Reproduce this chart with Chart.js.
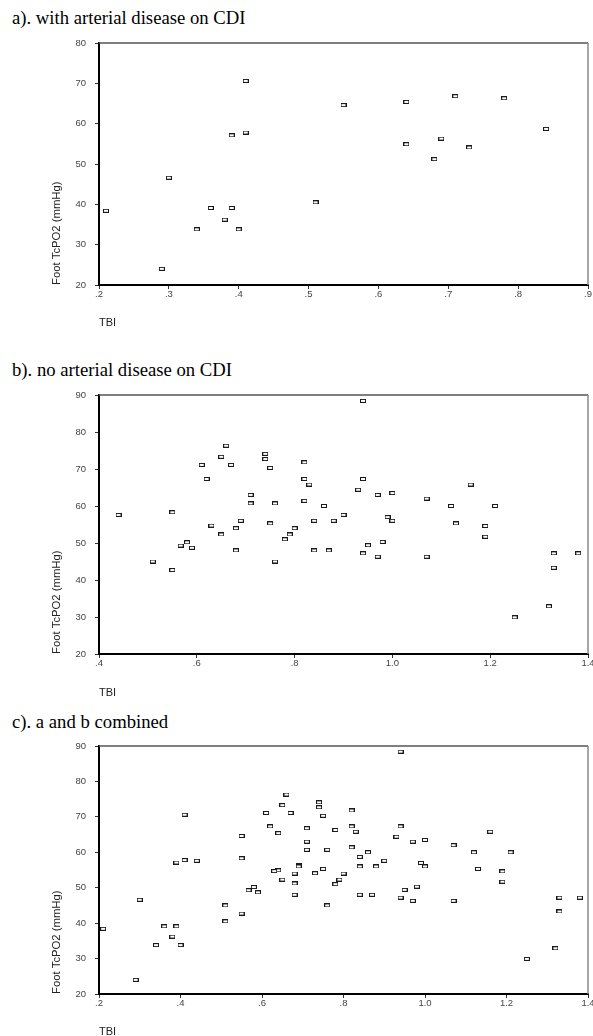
<!DOCTYPE html>
<html>
<head>
<meta charset="utf-8">
<script src="https://cdn.jsdelivr.net/npm/chart.js@4.4.1/dist/chart.umd.min.js"></script>
<style>
  html, body { margin: 0; padding: 0; background: #fff; overflow: hidden; }
  #page { position: relative; width: 593px; height: 1036px; overflow: hidden; }
  .ttl { position: absolute; left: 12px; font: 18.7px/18px "Liberation Serif", "Times New Roman", serif; color: #000; white-space: nowrap; }
  canvas { position: absolute; left: 0; }
</style>
</head>
<body>
<div id="page">
  <div class="ttl" style="top:9px">a). with arterial disease on CDI</div>
  <canvas id="chartA" width="593" height="300" style="top:33px"></canvas>
  <div class="ttl" style="top:361px">b). no arterial disease on CDI</div>
  <canvas id="chartB" width="593" height="318" style="top:385px"></canvas>
  <div class="ttl" style="top:713px">c). a and b combined</div>
  <canvas id="chartC" width="593" height="306" style="top:736px"></canvas>
</div>
<script>
// a) with arterial disease on CDI
const tbiA = [0.21, 0.29, 0.30, 0.34, 0.36, 0.38, 0.39, 0.40, 0.39, 0.41, 0.41,
  0.51, 0.55, 0.64, 0.64, 0.68, 0.69, 0.71, 0.73, 0.78, 0.84]
const tcpo2A = [38.4, 24.0, 46.6, 33.8, 39.1, 36.2, 39.1, 33.8, 57.1, 57.8, 70.6,
  40.5, 64.6, 65.4, 54.9, 51.2, 56.3, 66.8, 54.1, 66.3, 58.7]

// b) no arterial disease on CDI
const tbiB = [0.44, 0.51, 0.55, 0.55, 0.567, 0.58, 0.59, 0.61, 0.62, 0.63, 0.65, 0.65,
  0.66, 0.67, 0.68, 0.68, 0.69, 0.71, 0.71, 0.74, 0.74, 0.75, 0.75, 0.76, 0.76, 0.76,
  0.78, 0.79, 0.80, 0.82, 0.82, 0.82, 0.83, 0.84, 0.84, 0.86, 0.87, 0.88, 0.88, 0.90,
  0.93, 0.94, 0.94, 0.94, 0.95, 0.97, 0.97, 0.98, 0.99, 1.00, 1.00, 1.07, 1.07, 1.12,
  1.13, 1.16, 1.19, 1.19, 1.21, 1.25, 1.32, 1.33, 1.33, 1.38]
const tcpo2B = [57.6, 45.0, 58.3, 42.7, 49.3, 50.2, 48.7, 71.1, 67.3, 54.7, 73.3, 52.3,
  76.3, 71.1, 54.0, 48.0, 56.0, 63.0, 60.7, 74.1, 72.7, 55.3, 70.3, 60.7, 60.7, 45.0,
  51.0, 52.3, 54.0, 71.8, 67.3, 61.4, 65.8, 56.0, 48.0, 60.0, 48.0, 56.0, 56.0, 57.6,
  64.4, 88.4, 67.3, 47.2, 49.4, 63.0, 46.3, 50.3, 57.0, 63.5, 56.0, 62.0, 46.3, 60.0,
  55.3, 65.8, 54.6, 51.7, 60.0, 29.9, 32.9, 47.2, 43.3, 47.2]

// c) a and b combined
const tbiC = tbiA.concat(tbiB)
const tcpo2C = tcpo2A.concat(tcpo2B)

// tick values and labels
const xTicksA = [0.2, 0.3, 0.4, 0.5, 0.6, 0.7, 0.8, 0.9]
const xLabelsA = [".2", ".3", ".4", ".5", ".6", ".7", ".8", ".9"]
const xTicksB = [0.4, 0.6, 0.8, 1.0, 1.2, 1.4]
const xLabelsB = [".4", ".6", ".8", "1.0", "1.2", "1.4"]
const xTicksC = [0.2, 0.4, 0.6, 0.8, 1.0, 1.2, 1.4]
const xLabelsC = [".2", ".4", ".6", ".8", "1.0", "1.2", "1.4"]
const yTicksA = [20, 30, 40, 50, 60, 70, 80]
const yTicksBC = [20, 30, 40, 50, 60, 70, 80, 90]

const sans = "'Liberation Sans', Arial, sans-serif"

// little open rectangle used as the marker
function boxMarker() {
  const c = document.createElement("canvas")
  c.width = 6
  c.height = 4
  const g = c.getContext("2d")
  g.fillStyle = "#fff"
  g.fillRect(0, 0, 6, 4)
  g.strokeStyle = "#1a1a1a"
  g.lineWidth = 1
  g.strokeRect(0.5, 0.5, 5, 3)
  return c
}

// top and right lines of the frame
const frameLines = {
  id: "frameLines",
  afterDraw(chart) {
    const { ctx, chartArea } = chart
    ctx.save()
    ctx.lineWidth = 1.5
    ctx.strokeStyle = "#555"
    ctx.beginPath()
    ctx.moveTo(chartArea.left, chartArea.top)
    ctx.lineTo(chartArea.right, chartArea.top)
    ctx.stroke()
    ctx.strokeStyle = "#888"
    ctx.beginPath()
    ctx.moveTo(chartArea.right, chartArea.top)
    ctx.lineTo(chartArea.right, chartArea.bottom)
    ctx.stroke()
    ctx.restore()
  },
}

function makeChart(id, xs, ys, xTicks, xLabels, yTicks, xHeight) {
  const marker = boxMarker()
  return new Chart(document.getElementById(id), {
    type: "scatter",
    data: {
      datasets: [
        {
          data: xs.map((x, i) => ({ x: x, y: ys[i] })),
          pointStyle: marker,
          pointRadius: 3,
        },
      ],
    },
    options: {
      responsive: false,
      animation: false,
      events: [],
      layout: { padding: { top: 10, left: 44, right: 2, bottom: 0 } },
      plugins: { legend: { display: false }, tooltip: { enabled: false } },
      scales: {
        x: {
          type: "linear",
          min: xTicks[0],
          max: xTicks[xTicks.length - 1],
          afterBuildTicks: (s) => {
            s.ticks = xTicks.map((v) => ({ value: v }))
          },
          afterFit: (s) => {
            s.height = xHeight
            s.paddingLeft = 0
            s.paddingRight = 0
          },
          ticks: {
            callback: (v, i) => xLabels[i],
            font: { family: sans, size: 9.5 },
            color: "#444",
            padding: 0,
            maxRotation: 0,
            autoSkip: false,
          },
          grid: { drawOnChartArea: false, tickLength: 4, color: "#333" },
          border: { color: "#000", width: 2 },
          title: {
            display: true,
            text: "TBI",
            align: "start",
            font: { family: sans, size: 11 },
            color: "#222",
            padding: { top: 0, bottom: 3 },
          },
        },
        y: {
          type: "linear",
          min: yTicks[0],
          max: yTicks[yTicks.length - 1],
          afterBuildTicks: (s) => {
            s.ticks = yTicks.map((v) => ({ value: v }))
          },
          afterFit: (s) => {
            s.width = 55
            s.paddingTop = 0
            s.paddingBottom = 0
          },
          ticks: {
            font: { family: sans, size: 9.5 },
            color: "#444",
            padding: 9,
            autoSkip: false,
          },
          grid: { drawOnChartArea: false, tickLength: 4, color: "#333" },
          border: { color: "#000", width: 2 },
          title: {
            display: true,
            text: "Foot TcPO2 (mmHg)",
            align: "start",
            font: { family: sans, size: 11.3 },
            color: "#222",
            padding: { top: 6, bottom: 0 },
          },
        },
      },
    },
    plugins: [frameLines],
  })
}

makeChart("chartA", tbiA, tcpo2A, xTicksA, xLabelsA, yTicksA, 48)
makeChart("chartB", tbiB, tcpo2B, xTicksB, xLabelsB, yTicksBC, 49)
makeChart("chartC", tbiC, tcpo2C, xTicksC, xLabelsC, yTicksBC, 48)
</script>
</body>
</html>
